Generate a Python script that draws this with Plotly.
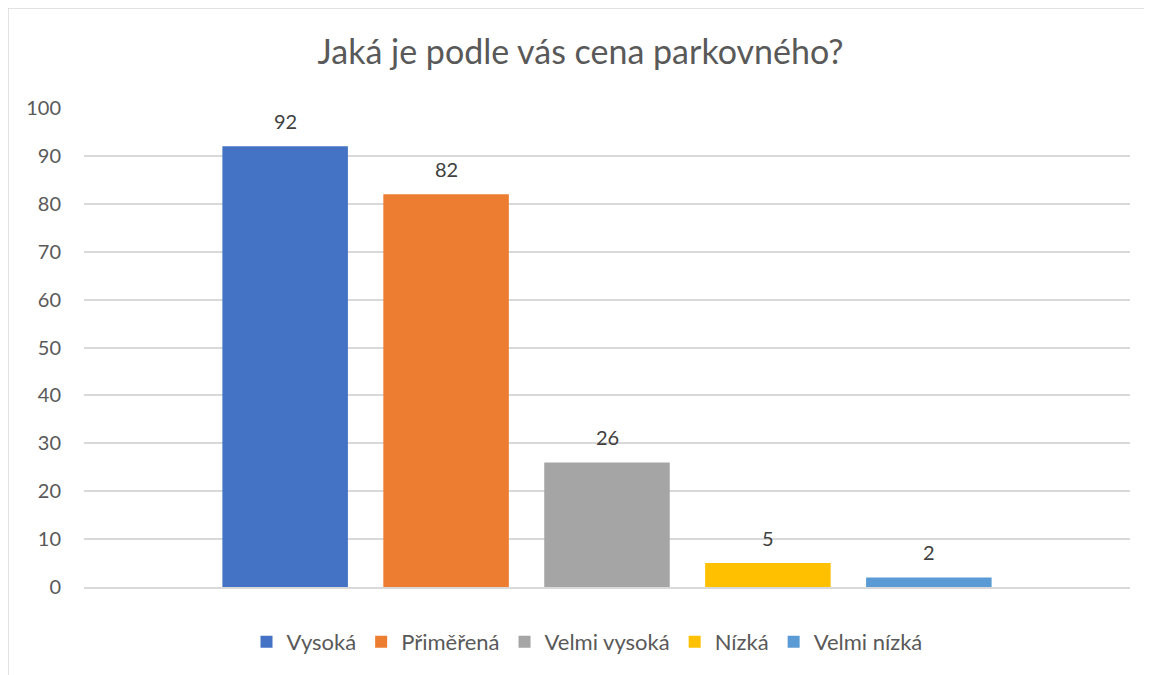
import plotly.graph_objects as go

categories = ["Vysoká", "Přiměřená", "Velmi vysoká", "Nízká", "Velmi nízká"]
values = [92, 82, 26, 5, 2]
colors = ["#4472C4", "#ED7D31", "#A5A5A5", "#FFC000", "#5B9BD5"]
title = "Jaká je podle vás cena parkovného?"

FONT = "Lato, 'Open Sans', sans-serif"
fig = go.Figure()
for i, (c, v, col) in enumerate(zip(categories, values, colors)):
    fig.add_trace(go.Bar(
        x=[i], y=[v], name=c, marker_color=col, width=0.78,
        marker_line_width=0,
    ))
    fig.add_annotation(x=i, y=v, text=str(v), showarrow=False, yanchor="bottom",
                       yshift=11, font=dict(size=20, color="#404040", family=FONT))

W, H = 1152, 675
L, R, T, B = 76, 30, 100, 96
pw, ph = W - L - R, H - T - B

def px(x):
    return (x - L) / pw

def py(y):
    return (H - B - y) / ph

fig.update_layout(
    width=W, height=H,
    margin=dict(l=L, r=R, t=T, b=B),
    paper_bgcolor="white", plot_bgcolor="white",
    barmode="overlay",
    font=dict(family=FONT, color="#595959"),
    title=dict(text=title, x=572.5 / W, xanchor="center", y=1 - 44 / H, yanchor="middle",
               font=dict(size=34, color="#595959", family=FONT)),
    xaxis=dict(range=[-1.25, 5.25], showticklabels=False, showgrid=False, zeroline=False,
               showline=True, linecolor="#D9D9D9", linewidth=1.5, ticks=""),
    yaxis=dict(range=[0, 100], dtick=10, showgrid=True, gridcolor="#D9D9D9", gridwidth=1.5,
               zeroline=False, tickfont=dict(size=20, color="#595959", family=FONT),
               ticks="", ticklen=0, ticklabelstandoff=22),
    legend=dict(orientation="h", x=px(579), xanchor="center", y=py(634), yanchor="middle",
                font=dict(size=22, color="#595959", family=FONT), itemwidth=30,
                traceorder="normal"),
    showlegend=True,
    shapes=[dict(type="rect", xref="paper", yref="paper",
                 x0=px(0), x1=px(1300), y0=py(800), y1=py(0),
                 line=dict(color="#D9D9D9", width=1.5), fillcolor="rgba(0,0,0,0)", layer="below")],
)

fig.write_html("out.html")
